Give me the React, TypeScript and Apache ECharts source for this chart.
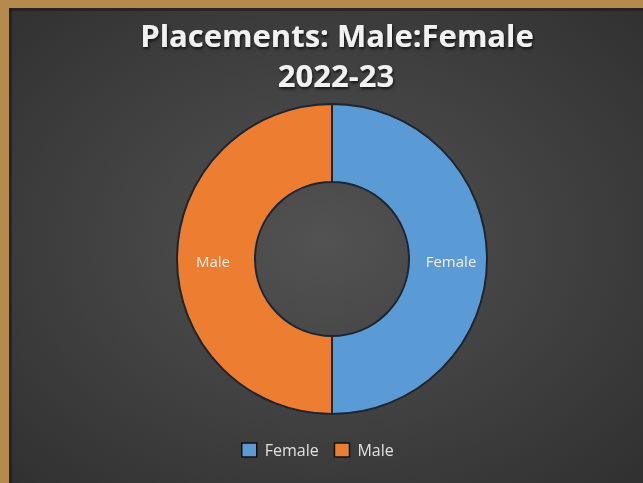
import React, { useEffect, useRef } from "react";
import * as echarts from "echarts";

const titleLines = ["Placements: Male:Female", "2022-23"];
const categories = ["Female", "Male"];
const values = [50, 50];
const colors = ["#5b9bd5", "#ed7d31"];

export default function App() {
  const ref = useRef<HTMLDivElement>(null);
  useEffect(() => {
    if (!ref.current) return;
    const chart = echarts.init(ref.current, undefined, { renderer: "svg" });
    const shadow = {
      textShadowColor: "rgba(0,0,0,0.7)",
      textShadowBlur: 3,
      textShadowOffsetX: 1,
      textShadowOffsetY: 2,
    };
    chart.setOption({
      animation: false,
      backgroundColor: {
        type: "radial",
        x: 0.5,
        y: 0.5,
        r: 0.75,
        colorStops: [
          { offset: 0, color: "#525252" },
          { offset: 1, color: "#2e2e2e" },
        ],
      },
      graphic: [
        { type: "rect", shape: { x: 0, y: 0, width: 643, height: 8 }, style: { fill: "#b58a4e" }, z: 10 },
        { type: "rect", shape: { x: 0, y: 0, width: 9, height: 483 }, style: { fill: "#b58a4e" }, z: 10 },
        { type: "rect", shape: { x: 9, y: 8, width: 634, height: 3 }, style: { fill: "rgba(30,25,20,0.6)" }, z: 9 },
        { type: "rect", shape: { x: 9, y: 8, width: 3, height: 475 }, style: { fill: "rgba(30,25,20,0.6)" }, z: 9 },
      ],
      title: [
        {
          text: titleLines[0],
          left: 332,
          top: 14,
          textAlign: "center",
          textStyle: { color: "#f2f2f2", fontFamily: "Open Sans", fontWeight: "bold", fontSize: 31, ...shadow },
        },
        {
          text: titleLines[1],
          left: 331,
          top: 54,
          textAlign: "center",
          textStyle: { color: "#f2f2f2", fontFamily: "Open Sans", fontWeight: "bold", fontSize: 31, ...shadow },
        },
      ],
      legend: {
        data: categories,
        left: 236,
        top: 437,
        itemWidth: 15,
        itemHeight: 14,
        itemGap: 15,
        icon: "rect",
        textStyle: { color: "#e0e0e0", fontFamily: "Open Sans", fontSize: 16, padding: [0, 0, 0, 3] },
        itemStyle: { borderColor: "#111", borderWidth: 1.5 },
      },
      series: [
        {
          type: "pie",
          center: [332, 259],
          radius: [77, 155],
          startAngle: 90,
          clockwise: true,
          data: categories.map((c, i) => ({ name: c, value: values[i], itemStyle: { color: colors[i] } })),
          itemStyle: { borderColor: "#1c2530", borderWidth: 2 },
          label: {
            show: true,
            position: "inside",
            formatter: "{b}",
            color: "#f0ece8",
            fontFamily: "Open Sans",
            fontSize: 15,
            offset: [0, 2],
          },
          labelLine: { show: false },
          emphasis: { disabled: true },
        },
      ],
    });
    return () => chart.dispose();
  }, []);
  return <div ref={ref} style={{ position: "fixed", left: 0, top: 0, width: 643, height: 483 }} />;
}
